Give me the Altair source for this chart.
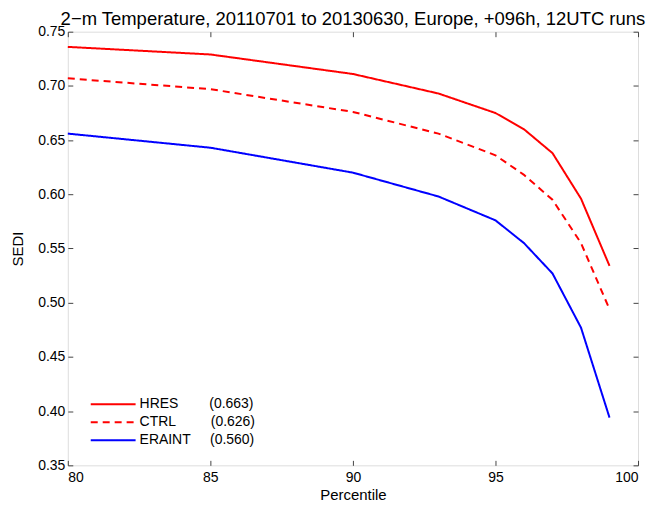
import altair as alt
import pandas as pd

percentile = [80, 85, 90, 93, 95, 96, 97, 98, 99]
hres = [0.736, 0.729, 0.711, 0.693, 0.675, 0.660, 0.638, 0.596, 0.534]
ctrl = [0.707, 0.697, 0.676, 0.656, 0.636, 0.618, 0.595, 0.555, 0.494]
eraint = [0.656, 0.643, 0.620, 0.598, 0.576, 0.555, 0.527, 0.477, 0.394]

models = ["HRES", "CTRL", "ERAINT"]
scores = ["(0.663)", "(0.626)", "(0.560)"]
pads = [8, 9, 5]
colors = ["#ff0000", "#ff0000", "#0000ff"]
dashes = [[1, 0], [7, 5], [1, 0]]

x_ticks = [80, 85, 90, 95, 100]
y_ticks = [0.35, 0.40, 0.45, 0.50, 0.55, 0.60, 0.65, 0.70, 0.75]

rows = []
for name, vals in zip(models, [hres, ctrl, eraint]):
    for p, v in zip(percentile, vals):
        rows.append({"p": p, "v": v, "model": name})
df = pd.DataFrame(rows)

nb = "\u00a0"
expr = ""
for m, s, n in zip(models, scores, pads):
    expr += f"datum.label === '{m}' ? '{m}{nb * n}{s}' : "
expr += "datum.label"

FONT = "Liberation Sans"
xs = alt.Scale(domain=[80, 100], nice=False, zero=False)
ys = alt.Scale(domain=[0.35, 0.75], nice=False, zero=False)

legend = alt.Legend(
    orient="none", legendX=22, legendY=365, title=None, padding=0,
    symbolType="stroke", symbolSize=2025, symbolStrokeWidth=2,
    clipHeight=17.5, rowPadding=0, labelOffset=3, labelFontSize=14, labelFont=FONT,
    labelColor="#000", labelExpr=expr,
)

common_axis = dict(grid=False, domain=False, tickSize=5, offset=-5,
                   tickColor="#444", tickWidth=1, labelColor="#000",
                   labelFont=FONT, titleFont=FONT, titleColor="#000",
                   labelFontSize=14, titleFontSize=15, titleFontWeight="normal")

lines = alt.Chart(df).mark_line(strokeWidth=2).encode(
    x=alt.X("p:Q", scale=xs, axis=alt.Axis(orient="bottom", values=x_ticks, format="d",
                                            title="Percentile", labelPadding=5,
                                            titleX=286, titleY=39, titleBaseline="alphabetic",
                                            **common_axis)),
    y=alt.Y("v:Q", scale=ys, axis=alt.Axis(orient="left", values=y_ticks, format=".2f",
                                            title="SEDI", labelPadding=3,
                                            titleX=-50, titleY=217.5, titleBaseline="alphabetic",
                                            **common_axis)),
    color=alt.Color("model:N", scale=alt.Scale(domain=models, range=colors), legend=legend),
    strokeDash=alt.StrokeDash("model:N", scale=alt.Scale(domain=models, range=dashes), legend=legend),
)

frame_axis = dict(common_axis)
frame = alt.Chart(df).mark_line(opacity=0).encode(
    x=alt.X("p:Q", scale=xs, axis=alt.Axis(orient="top", values=x_ticks, labels=False, title=None, **frame_axis)),
    y=alt.Y("v:Q", scale=ys, axis=alt.Axis(orient="right", values=y_ticks, labels=False, title=None, **frame_axis)),
    detail="model:N",
)

chart = alt.layer(lines, frame).resolve_scale(x="independent", y="independent").properties(
    width=572, height=435,
    padding={"left": 60, "top": 23, "right": 8, "bottom": 38},
    autosize=alt.AutoSizeParams(type="none"),
    title=alt.TitleParams(
        "2\u2212m Temperature, 20110701 to 20130630, Europe, +096h, 12UTC runs",
        font=FONT, fontSize=18.5, fontWeight="normal", color="#000",
        anchor="middle", frame="group", baseline="alphabetic", offset=6, dy=25,
    ),
).configure_view(stroke="#444", strokeWidth=1).configure(font=FONT)

chart.save("out.html", embed_options={"renderer": "svg", "actions": False})
